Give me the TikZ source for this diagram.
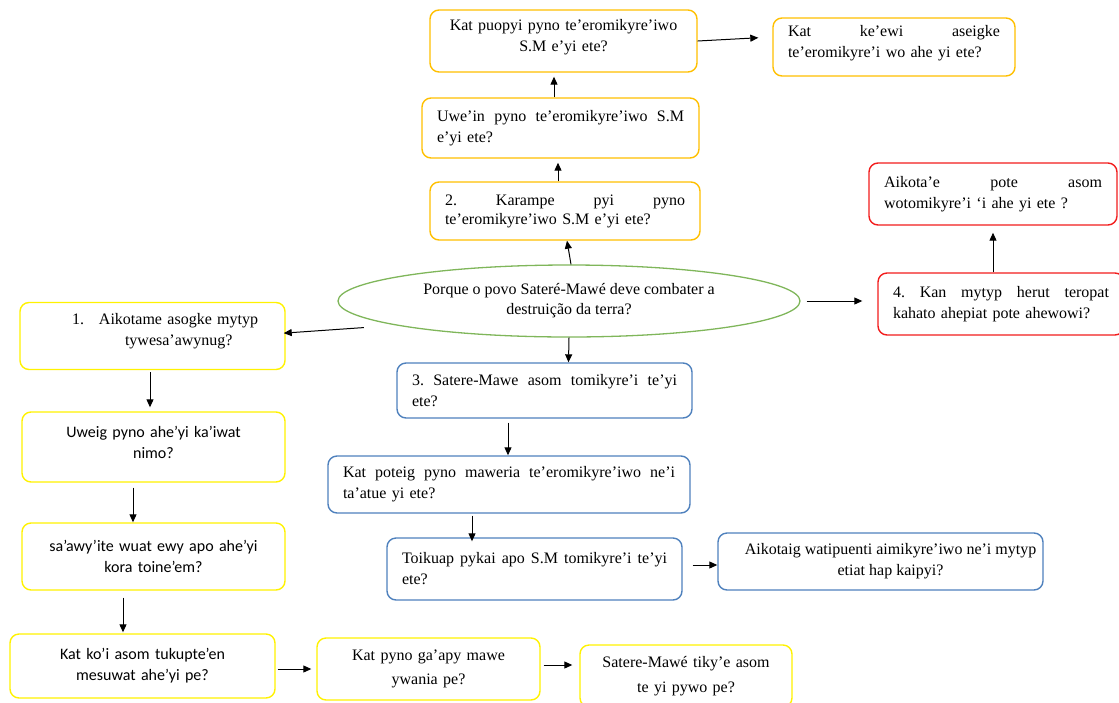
\documentclass[tikz,border=0pt]{standalone}
\usepackage{fontspec}
\setmainfont{Liberation Serif}
\newfontfamily\calibrifont{Carlito}
\usetikzlibrary{arrows.meta,shapes.geometric}
\definecolor{boxorange}{HTML}{FFC000}
\definecolor{boxyellow}{HTML}{FFF200}
\definecolor{boxred}{HTML}{F21C1C}
\definecolor{boxblue}{HTML}{4F81BD}
\definecolor{ellgreen}{HTML}{7FB65A}
\begin{document}
\begin{tikzpicture}[x=1pt,y=-1pt,
  qbox/.style={draw, rounded corners=9pt, line width=1.4pt, fill=white, text=black,
    inner xsep=15pt, inner ysep=2pt, font=\fontsize{16}{21}\selectfont},
  sansbox/.style={qbox, font=\calibrifont\fontsize{16}{21}\selectfont},
  obox/.style={qbox, draw=boxorange},
  ybox/.style={qbox, draw=boxyellow},
  yboxsans/.style={sansbox, draw=boxyellow},
  rbox/.style={qbox, draw=boxred},
  bbox/.style={qbox, draw=boxblue},
  arr/.style={-{Triangle[length=8pt,width=7pt]}, line width=1pt, black},
  ]
\useasboundingbox (0,0) rectangle (1119,702);
\clip (0,0) rectangle (1119,702);

% central question
\node[ellipse, draw=ellgreen, line width=1.3pt, minimum width=462pt, minimum height=72pt,
      inner sep=0pt, align=center, font=\fontsize{16}{20}\selectfont]
  (E) at (569,301) {Porque o povo Sateré-Mawé deve combater a\\ destruição da terra?};

% branch 2 (orange)
\node[obox, align=center, text width=237pt, minimum width=267pt, minimum height=62pt]
  (A) at (563.5,41) {Kat puopyi pyno te’eromikyre’iwo\\ S.M e’yi ete?\rule[-12pt]{0pt}{12pt}};
\node[obox, align=left, text width=212pt, minimum width=242pt, minimum height=58pt]
  (B) at (894,47) {Kat\hfill ke’ewi\hfill aseigke\\ te’eromikyre’i wo ahe yi ete?\rule[-12pt]{0pt}{12pt}};
\node[obox, align=left, text width=247pt, minimum width=277pt, minimum height=60pt]
  (C) at (560.5,128) {Uwe’in\hfill pyno\hfill te’eromikyre’iwo\hfill S.M\\ e’yi ete?};
\node[obox, align=left, text width=240pt, minimum width=270pt, minimum height=58pt,
      font=\fontsize{16}{19}\selectfont]
  (D) at (565,211) {2.\hfill Karampe\hfill pyi\hfill pyno\\ te’eromikyre’iwo S.M e’yi ete?};

% branch 4 (red)
\node[rbox, align=left, text width=218pt, minimum width=248pt, minimum height=62pt]
  (F) at (993,194) {Aikota’e\hfill pote\hfill asom\\ wotomikyre’i ‘i ahe yi ete ?};
\node[rbox, align=left, text width=216pt, minimum width=246pt, minimum height=62pt]
  (G) at (1001,304) {4.\hfill Kan\hfill mytyp\hfill herut\hfill teropat\\ kahato ahepiat pote ahewowi?};

% branch 1 (yellow)
\node[ybox, align=left, text width=235pt, minimum width=265pt, minimum height=67pt]
  (H) at (152.5,336) {\hspace*{37pt}1.\hspace{15pt}Aikotame asogke mytyp\\
    \hspace*{90pt}tywesa’awynug?\rule[-14pt]{0pt}{14pt}};
\node[yboxsans, align=center, text width=233pt, minimum width=263pt, minimum height=70pt]
  (I) at (153.5,447) {Uweig pyno ahe’yi ka’iwat\\ nimo?\rule[-9pt]{0pt}{9pt}};
\node[yboxsans, align=center, text width=233pt, minimum width=263pt, minimum height=67pt]
  (J) at (153.5,556.5) {sa’awy’ite wuat ewy apo ahe’yi\\ kora toine’em?};
\node[yboxsans, align=center, text width=235pt, minimum width=265pt, minimum height=64pt]
  (K) at (142.5,666) {Kat ko’i asom tukupte’en\\ mesuwat ahe’yi pe?};
\node[ybox, align=center, text width=193pt, minimum width=223pt, minimum height=62pt,
      font=\fontsize{16}{24}\selectfont]
  (L) at (428.5,669) {Kat pyno ga’apy mawe\\ ywania pe?};
\node[ybox, align=center, text width=182pt, minimum width=212pt, minimum height=62pt,
      font=\fontsize{16}{25}\selectfont]
  (M) at (686,676) {Satere-Mawé tiky’e asom\\ te yi pywo pe?};

% branch 3 (blue)
\node[bbox, align=left, text width=265pt, minimum width=295pt, minimum height=55pt]
  (N) at (544.5,390.5) {3.\hfill Satere-Mawe\hfill asom\hfill tomikyre’i\hfill te’yi\\ ete?};
\node[bbox, align=left, text width=332pt, minimum width=362pt, minimum height=57pt]
  (O) at (509,484.5) {Kat\hfill poteig\hfill pyno\hfill maweria\hfill te’eromikyre’iwo\hfill ne’i\\ ta’atue yi ete?};
\node[bbox, align=left, text width=265pt, minimum width=295pt, minimum height=62pt]
  (P) at (534.5,569) {Toikuap\hfill pykai\hfill apo\hfill S.M\hfill tomikyre’i\hfill te’yi\\ ete?};
\node[bbox, align=center, inner xsep=0pt, minimum width=325pt, minimum height=57pt]
  (Q) at (880.5,561.5) {\hspace*{20pt}Aikotaig watipuenti aimikyre’iwo ne’i mytyp\\ \hspace*{20pt}etiat hap kaipyi?};

% connectors
\draw[arr, shorten >=14pt] (A.east) -- ([yshift=10pt]B.west);
\draw[arr, shorten >=4pt] ([xshift=-6.5pt]C.north) -- ([xshift=-9.5pt]A.south);
\draw[arr, shorten >=4pt] ([xshift=-7pt]D.north) -- ([xshift=-2.5pt]C.south);
\draw[arr] ([xshift=2pt]E.north) -- ([xshift=2pt]D.south);
\draw[arr, shorten <=6pt, shorten >=15pt] (E.east) -- ([yshift=3pt]G.west);
\draw[arr, shorten >=7pt] ([xshift=-8pt]G.north) -- (F.south);
\draw[arr, shorten <=32pt, shorten >=-2pt] (E.188) -- ([yshift=3pt]H.east);
\draw[arr] (E.south) -- ([xshift=24pt]N.north);
\draw[arr, shorten <=2pt, shorten >=4pt] ([xshift=-2.5pt]H.south) -- ([xshift=-3.5pt]I.north);
\draw[arr, shorten <=5pt] ([xshift=-20.5pt]I.south) -- ([xshift=-20.5pt]J.north);
\draw[arr, shorten <=7pt, shorten >=1pt] ([xshift=-30.5pt]J.south) -- ([xshift=-19.5pt]K.north);
\draw[arr, shorten <=2pt, shorten >=5pt] ([yshift=-3pt]K.east) -- (L.west);
\draw[arr, shorten <=3pt, shorten >=7pt] ([yshift=4pt]L.east) -- ([yshift=11pt]M.west);
\draw[arr, shorten <=4pt] ([xshift=-36.5pt]N.south) -- ([xshift=-1pt]O.north);
\draw[arr, shorten <=2pt, shorten >=-4pt] ([xshift=-37pt]O.south) -- ([xshift=-62.5pt]P.north);
\draw[arr, shorten <=10pt] ([yshift=4pt]P.east) -- ([yshift=-3.5pt]Q.west);
\end{tikzpicture}
\end{document}
